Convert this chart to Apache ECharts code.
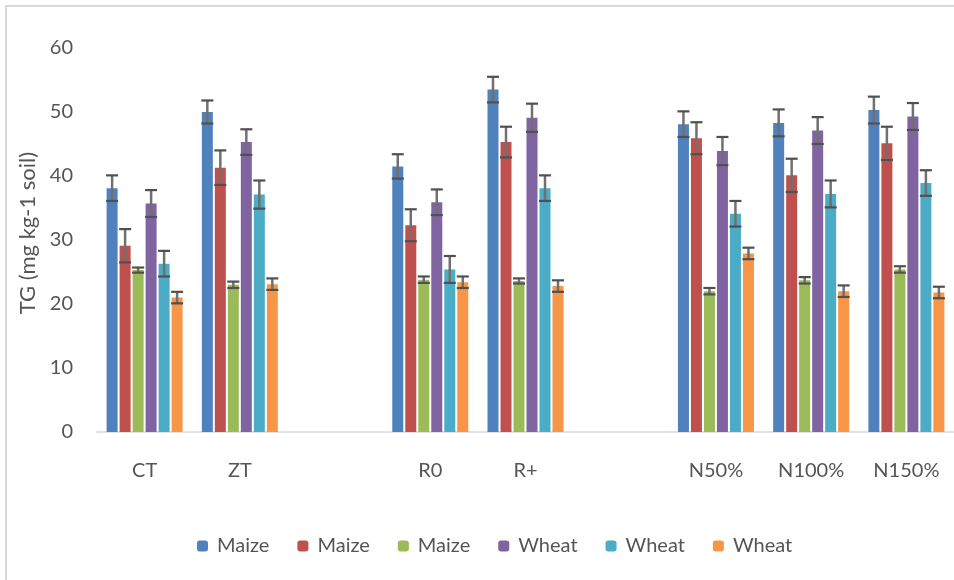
<!DOCTYPE html>
<html>
<head>
<meta charset="utf-8">
<script src="https://cdn.jsdelivr.net/npm/echarts@6/dist/echarts.min.js"></script>
<style>
  html, body { margin: 0; padding: 0; background: #fff; }
  #main { width: 954px; height: 580px; }
</style>
</head>
<body>
<div id="main"></div>
<script>
// categories, '' = blank slot between groups
var categories = ['CT', 'ZT', '', 'R0', 'R+', '', 'N50%', 'N100%', 'N150%'];
var seriesLabels = ['Maize', 'Maize', 'Maize', 'Wheat', 'Wheat', 'Wheat'];
var colors = ['#4f81bd', '#c0504d', '#9bbb59', '#8064a2', '#4bacc6', '#f79646'];

// bar heights
var maize1 = [38.1, 50.0, null, 41.5, 53.5, null, 48.1, 48.3, 50.3];
var maize2 = [29.1, 41.3, null, 32.3, 45.3, null, 45.9, 40.1, 45.1];
var maize3 = [25.3, 23.0, null, 23.8, 23.6, null, 22.0, 23.7, 25.4];
var wheat1 = [35.7, 45.3, null, 35.9, 49.1, null, 43.9, 47.1, 49.3];
var wheat2 = [26.3, 37.1, null, 25.4, 38.1, null, 34.1, 37.2, 38.9];
var wheat3 = [21.0, 23.1, null, 23.4, 22.8, null, 27.9, 22.0, 21.8];

// error (+/-)
var maize1Err = [2.0, 1.8, null, 1.9, 2.0, null, 2.0, 2.1, 2.1];
var maize2Err = [2.6, 2.7, null, 2.5, 2.4, null, 2.5, 2.6, 2.6];
var maize3Err = [0.4, 0.5, null, 0.5, 0.4, null, 0.5, 0.5, 0.5];
var wheat1Err = [2.1, 2.0, null, 2.0, 2.2, null, 2.2, 2.1, 2.1];
var wheat2Err = [2.0, 2.2, null, 2.1, 2.0, null, 2.0, 2.1, 2.0];
var wheat3Err = [0.9, 0.9, null, 0.9, 0.9, null, 0.9, 0.9, 0.9];

var values = [maize1, maize2, maize3, wheat1, wheat2, wheat3];
var errors = [maize1Err, maize2Err, maize3Err, wheat1Err, wheat2Err, wheat3Err];

var BAR_W = 11;
var BAR_GAP = 2;
var FONT = 'Lato';
var TXT = '#555555';

var myChart = echarts.init(document.getElementById('main'));

var series = [];
values.forEach(function (vals, i) {
    series.push({
        name: seriesLabels[i] + '#' + i,
        type: 'bar',
        barWidth: BAR_W,
        barGap: (BAR_GAP / BAR_W * 100) + '%',
        itemStyle: { color: colors[i] },
        data: vals
    });
});

// error bars, one custom series per bar series
values.forEach(function (vals, i) {
    var errData = [];
    vals.forEach(function (v, k) {
        if (v != null) errData.push([k, v - errors[i][k], v + errors[i][k]]);
    });
    var offset = (i - (values.length - 1) / 2) * (BAR_W + BAR_GAP);
    series.push({
        type: 'custom',
        name: seriesLabels[i] + '#' + i,
        silent: true,
        z: 5,
        data: errData,
        renderItem: function (params, api) {
            var lo = api.coord([api.value(0), api.value(1)]);
            var hi = api.coord([api.value(0), api.value(2)]);
            var x = lo[0] + offset;
            var half = 6;
            var style = { stroke: '#505050', lineWidth: 2.2, fill: null };
            return {
                type: 'group',
                children: [
                    { type: 'line', shape: { x1: x, y1: lo[1], x2: x, y2: hi[1] }, style: { stroke: '#707070', lineWidth: 2.5 } },
                    { type: 'line', shape: { x1: x - half, y1: hi[1], x2: x + half, y2: hi[1] }, style: style },
                    { type: 'line', shape: { x1: x - half, y1: lo[1], x2: x + half, y2: lo[1] }, style: style }
                ]
            };
        }
    });
});

option = {
    animation: false,
    textStyle: { fontFamily: FONT },
    grid: { left: 97, right: -10, top: 48, bottom: 148, containLabel: false },
    legend: {
        left: 192,
        top: 531,
        itemWidth: 11,
        itemHeight: 11,
        itemGap: 28,
        data: seriesLabels.map(function (s, i) { return s + '#' + i; }),
        formatter: function (name) { return name.split('#')[0]; },
        textStyle: { color: TXT, fontSize: 20, fontFamily: FONT, padding: [0, 0, 0, 4] }
    },
    xAxis: {
        type: 'category',
        data: categories,
        axisLine: { lineStyle: { color: '#d9d9d9', width: 1.5 } },
        axisTick: { show: false },
        axisLabel: { color: TXT, fontSize: 20, fontFamily: FONT, margin: 29, interval: 0 }
    },
    yAxis: {
        type: 'value',
        min: 0,
        max: 60,
        interval: 10,
        name: 'TG (mg kg-1 soil)',
        nameLocation: 'middle',
        nameGap: 58,
        nameTextStyle: { color: TXT, fontSize: 22, fontFamily: FONT, padding: [0, 0, 0, 14] },
        axisLine: { show: false },
        axisTick: { show: false },
        splitLine: { show: false },
        axisLabel: { color: TXT, fontSize: 20, fontFamily: FONT, margin: 24 }
    },
    graphic: [{
        type: 'rect',
        shape: { x: 6, y: 6, width: 1200, height: 800 },
        style: { fill: null, stroke: '#d9d9d9', lineWidth: 2 },
        silent: true
    }],
    series: series
};

myChart.setOption(option);
</script>
</body>
</html>
